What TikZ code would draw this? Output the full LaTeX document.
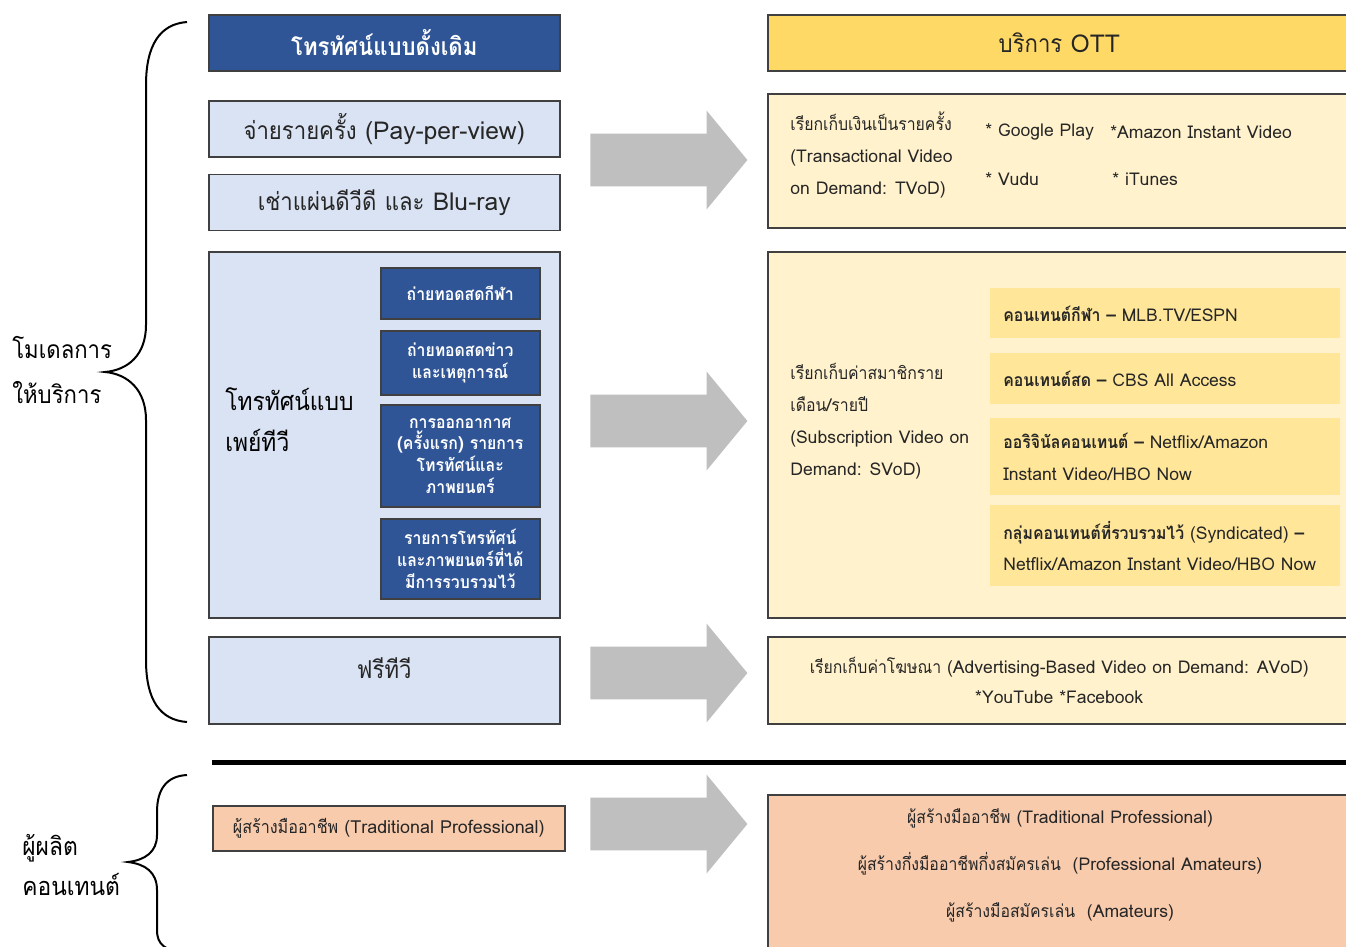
\documentclass[tikz,border=0pt]{standalone}
\usepackage{fontspec}
\setmainfont{Loma}[Script=Thai]
\newfontfamily\thaiface{Loma}[Script=Thai,FakeStretch=0.9]
% Thai letters switch to the narrower face by themselves
\makeatletter
\XeTeXinterchartokenstate=1
\newXeTeXintercharclass\thaiclass
\count@="0E00
\loop\ifnum\count@<"0E80
  \XeTeXcharclass\count@=\thaiclass
  \advance\count@ by 1
\repeat
\makeatother
\XeTeXinterchartoks 0 \thaiclass = {\thaiface}
\XeTeXinterchartoks 4095 \thaiclass = {\thaiface}
\XeTeXinterchartoks \thaiclass 0 = {\rmfamily}
\XeTeXinterchartoks \thaiclass 4095 = {\rmfamily}
\usetikzlibrary{positioning,shapes.arrows}
\definecolor{ottnavy}{HTML}{2F5597}
\definecolor{ottpale}{HTML}{DAE3F3}
\definecolor{ottgold}{HTML}{FFD966}
\definecolor{ottcream}{HTML}{FFF2CC}
\definecolor{ottwheat}{HTML}{FFE699}
\definecolor{ottsalmon}{HTML}{F8CBAD}
\definecolor{ottgray}{HTML}{BFBFBF}
\definecolor{ottline}{HTML}{404040}
\definecolor{otttext}{HTML}{262626}
\tikzset{
  boxbase/.style={draw=ottline,line width=.3mm,anchor=north west,inner sep=0pt,text=otttext},
  oldhead/.style={boxbase,fill=ottnavy,text=white,minimum width=70.2mm,minimum height=11.2mm,font=\fontsize{14}{16}\selectfont\bfseries},
  otthead/.style={boxbase,fill=ottgold,minimum width=116.6mm,minimum height=11.2mm,font=\fontsize{14}{16}\selectfont},
  oldbox/.style={boxbase,fill=ottpale,minimum width=70.2mm,font=\fontsize{14}{16}\selectfont},
  chanbox/.style={boxbase,fill=ottnavy,text=white,minimum width=31.8mm,align=center,font=\fontsize{10}{12.5}\selectfont\bfseries},
  ottbox/.style={boxbase,fill=ottcream,minimum width=116.6mm},
  subbox/.style={anchor=north west,fill=ottwheat,minimum width=70mm,text width=64.8mm,align=left,inner sep=0pt,text=otttext,font=\fontsize{10}{18}\selectfont},
  maker/.style={boxbase,fill=ottsalmon},
  note/.style={align=left,inner sep=0pt,text=otttext,font=\fontsize{10}{18.2}\selectfont},
  sidelabel/.style={anchor=west,align=left,inner sep=0pt,text=black,font=\fontsize{14}{25.6}\selectfont},
  bigarrow/.style={single arrow,fill=ottgray,draw=none,inner sep=0pt,text height=5.2mm,text depth=5.2mm,minimum height=31.4mm,minimum width=19.6mm,single arrow head extend=4.6mm,single arrow tip angle=101},
  brace/.style={line width=.4mm,black}
}
\begin{document}
\begin{tikzpicture}[x=0.2mm,y=-0.2mm]
  \useasboundingbox[fill=white] (0,0) rectangle (1346,946);
  % column heads
  \node[oldhead] (oldtv) at (208,14) {โทรทัศน์แบบดั้งเดิม};
  \node[otthead] (ott) at (767,14) {บริการ OTT};
  % traditional tv
  \node[oldbox,minimum height=11.2mm] (ppv) at (208,100) {จ่ายรายครั้ง (Pay-per-view)};
  \node[oldbox,minimum height=11.2mm,below=3.2mm of ppv.south west,anchor=north west] (dvd) {เช่าแผ่นดีวีดี และ Blu-ray};
  \node[oldbox,minimum height=73.2mm] (paytv) at (208,251) {};
  \node[sidelabel,font=\fontsize{14.4}{23.5}\selectfont] (paytvtxt) at (225,420) {โทรทัศน์แบบ\\เพย์ทีวี};
  \node[chanbox,minimum height=10.2mm] (sport) at (380,267) {ถ่ายทอดสดกีฬา};
  \node[chanbox,minimum height=12.8mm] (news) at (380,330) {ถ่ายทอดสดข่าว\\และเหตุการณ์};
  \node[chanbox,minimum height=20.4mm] (premiere) at (380,404) {การออกอากาศ\\(ครั้งแรก) รายการ\\โทรทัศน์และ\\ภาพยนตร์};
  \node[chanbox,minimum height=16mm] (library) at (380,518) {รายการโทรทัศน์\\และภาพยนตร์ที่ได้\\มีการรวบรวมไว้};
  \node[oldbox,minimum height=17.4mm,text depth=5mm] (freetv) at (208,636) {ฟรีทีวี};
  % ott services
  \node[ottbox,minimum height=26.8mm] (tvod) at (767,93) {};
  \node[note,anchor=west] (tvodtxt) at (790,155) {เรียกเก็บเงินเป็นรายครั้ง\\(Transactional Video\\on Demand: TVoD)};
  \node[note,anchor=west] (gplay) at (985,132) {* Google Play};
  \node[note,anchor=west] (amazon) at (1110,132) {*Amazon Instant Video};
  \node[note,anchor=west] (vudu) at (985,179) {* Vudu};
  \node[note,anchor=west] (itunes) at (1112,179) {* iTunes};
  \node[ottbox,minimum height=73.2mm] (svod) at (767,251) {};
  \node[note,anchor=west] (svodtxt) at (790,421) {เรียกเก็บค่าสมาชิกราย\\เดือน/รายปี\\(Subscription Video on\\Demand: SVoD)};
  \node[subbox,minimum height=10mm] (sportott) at (990,288) {\textbf{คอนเทนต์กีฬา –} MLB.TV/ESPN};
  \node[subbox,minimum height=10.2mm] (liveott) at (990,353) {\textbf{คอนเทนต์สด –} CBS All Access};
  \node[subbox,minimum height=15.4mm] (origott) at (990,418) {\textbf{ออริจินัลคอนเทนต์ –} Netflix/Amazon\\Instant Video/HBO Now};
  \node[subbox,minimum height=16.2mm] (syndott) at (990,505) {\textbf{กลุ่มคอนเทนต์ที่รวบรวมไว้} (Syndicated) \textbf{–}\\Netflix/Amazon Instant Video/HBO Now};
  \node[ottbox,minimum height=17.4mm,align=center,font=\fontsize{10}{17}\selectfont] (avod) at (767,636) {เรียกเก็บค่าโฆษณา (Advertising-Based Video on Demand: AVoD)\\*YouTube *Facebook};
  % producers
  \node[maker,minimum width=70.4mm,minimum height=9mm,font=\fontsize{10.2}{12}\selectfont] (pro) at (212,805) {ผู้สร้างมืออาชีพ (Traditional Professional)};
  \node[maker,minimum width=116.6mm,minimum height=33.2mm] (makers) at (767,794) {};
  \node[align=center,inner sep=0pt,text=otttext,font=\fontsize{10}{26.8}\selectfont] (makerstxt) at (1060,865) {ผู้สร้างมืออาชีพ (Traditional Professional)\\ผู้สร้างกึ่งมืออาชีพกึ่งสมัครเล่น~~(Professional Amateurs)\\ผู้สร้างมือสมัครเล่น~~(Amateurs)};
  % gray arrows
  \node[bigarrow] (arrowppv) at (658,160) {};
  \node[bigarrow] (arrowpay) at (658,421) {};
  \node[bigarrow] (arrowfree) at (658,673) {};
  \node[bigarrow] (arrowmaker) at (658,824) {};
  % divider
  \draw[line width=1mm] (212,762) -- (1346,762);
  % braces and side labels
  \draw[brace] (187,22) .. controls (160,24) and (146,45) .. (146,85) -- (146,325)
    .. controls (146,355) and (128,370) .. (105,372)
    .. controls (128,374) and (146,390) .. (146,420) -- (146,660)
    .. controls (146,700) and (160,720) .. (187,722);
  \node[sidelabel] (model) at (12,370) {โมเดลการ\\ให้บริการ};
  \draw[brace] (187,775) .. controls (166,776) and (157,790) .. (157,812) -- (157,835)
    .. controls (157,852) and (145,860) .. (128,862)
    .. controls (145,864) and (157,872) .. (157,890) -- (157,930)
    .. controls (157,945) and (165,950) .. (187,955);
  \node[sidelabel,font=\fontsize{14.4}{22.8}\selectfont] (producer) at (22,865) {ผู้ผลิต\\คอนเทนต์};
\end{tikzpicture}
\end{document}
